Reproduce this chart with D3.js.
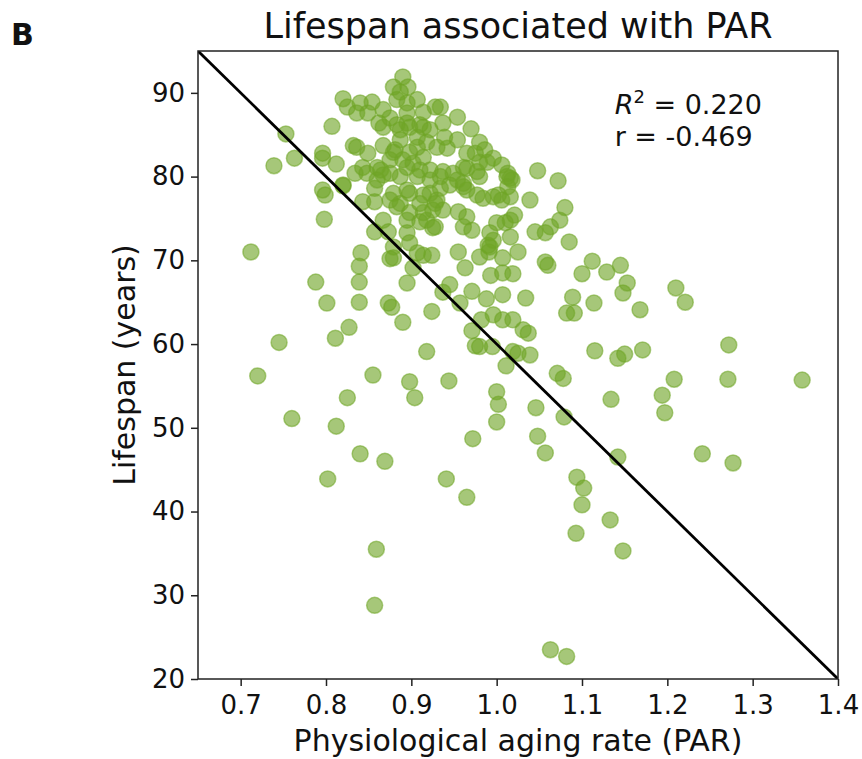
<!DOCTYPE html>
<html>
<head>
<meta charset="utf-8">
<script src="https://cdn.jsdelivr.net/npm/d3@7"></script>
<style>
  body { margin: 0; background: #fff; }
  svg text { font-family: "DejaVu Sans", sans-serif; fill: #111; }
</style>
</head>
<body>
<svg id="chart" width="862" height="759"></svg>
<script>
// Axis ranges and ticks
const xDomain = [0.65, 1.4];
const yDomain = [20, 95];
const xTicks = [0.7, 0.8, 0.9, 1.0, 1.1, 1.2, 1.3, 1.4];
const yTicks = [20, 30, 40, 50, 60, 70, 80, 90];

// Fitted line endpoints (PAR, lifespan)
const fitX = [0.65, 1.4];
const fitY = [95, 20];

// Stats label
const r2Text = '0.220';
const rText = '-0.469';

// Points: [PAR, lifespan]
const points = [
  [0.712,71.0],[0.739,81.3],[0.753,85.1],[0.763,82.2],[0.745,60.2],[0.720,56.2],[0.760,51.1],[0.788,67.4],
  [0.801,64.9],[0.796,82.8],[0.796,82.2],[0.796,78.4],[0.799,77.8],[0.798,74.9],[0.807,86.0],[0.812,81.5],
  [0.820,78.9],[0.811,60.7],[0.827,62.0],[0.839,69.3],[0.839,67.4],[0.839,65.0],[0.841,70.9],[0.812,50.2],
  [0.825,53.6],[0.855,56.3],[0.840,46.9],[0.869,46.0],[0.802,43.9],[0.859,35.5],[0.857,28.8],[0.875,70.2],
  [0.879,70.3],[0.895,67.3],[0.873,64.9],[0.877,64.4],[0.924,63.9],[0.890,62.6],[0.918,59.1],[0.898,55.5],
  [0.944,55.6],[0.904,53.6],[0.941,43.9],[0.965,41.7],[0.972,48.7],[1.000,54.3],[1.002,52.8],[1.000,50.7],
  [1.094,44.1],[1.102,42.8],[1.100,40.8],[1.133,39.0],[1.093,37.4],[1.148,35.3],[1.063,23.5],[1.082,22.7],
  [1.048,49.0],[1.057,47.0],[1.046,52.4],[1.079,51.3],[1.071,56.5],[1.078,55.9],[1.134,53.4],[1.142,46.5],
  [1.194,53.9],[1.197,51.8],[1.208,55.8],[1.271,55.8],[1.277,45.8],[1.241,46.9],[1.358,55.7],[1.272,59.9],
  [1.171,59.3],[1.150,58.8],[1.142,58.3],[1.115,59.2],[1.168,64.1],[1.221,65.0],[1.210,66.7],[1.153,67.3],
  [1.148,66.1],[1.145,69.4],[1.129,68.6],[1.100,68.4],[1.112,69.9],[1.089,65.6],[1.082,63.7],[1.091,63.7],
  [1.114,64.9],[1.085,72.2],[1.074,74.8],[1.063,74.0],[1.057,69.8],[1.060,69.4],[1.045,73.4],[1.080,76.3],
  [1.072,79.5],[1.048,80.7],[1.039,77.2],[1.016,77.6],[1.018,79.6],[1.013,80.4],[1.006,81.4],[1.016,72.8],
  [1.025,71.0],[1.007,70.3],[1.007,68.5],[1.019,68.4],[1.007,65.9],[1.034,65.5],[1.019,62.9],[1.007,62.9],
  [1.031,61.7],[1.037,61.3],[1.019,59.1],[1.025,58.9],[1.039,58.7],[1.011,57.4],
  [0.963,69.1],[0.971,66.3],[0.988,65.4],[0.993,68.2],[0.980,70.4],[0.991,71.0],[0.955,71.0],[0.945,67.1],
  [0.937,66.2],[0.957,64.9],[0.982,62.9],[0.996,63.5],[0.971,61.6],[0.975,59.8],[0.980,59.7],[0.995,59.7],
  [0.914,70.6],[0.907,70.9],[0.902,69.1],[0.924,70.6],
  [1.057,73.3],[1.021,75.4],[1.010,74.5],[1.000,74.5],[0.992,73.3],[0.990,71.8],[0.934,80.0],[0.965,78.4],
  [0.977,77.8],[0.996,77.6],[1.006,77.2],[0.928,76.8],[0.937,76.0],[0.955,75.8],[0.961,74.0],[0.971,73.6],
  [0.928,74.0],[1.016,79.8],[0.980,80.0],[0.961,79.2],[0.945,79.0],
  [0.820,79.0],[0.857,73.4],[0.873,73.4],[0.867,74.8],[0.895,74.8],[0.895,73.3],[0.898,72.1],[0.875,77.2],
  [0.887,76.8],[0.910,76.8],[0.918,74.8],[0.843,77.0],[0.857,77.0],[0.857,78.6],[0.895,78.4],[0.848,80.4],
  [0.867,80.2],[0.887,80.0],[0.907,80.0],[0.922,79.6],[0.834,80.4],
  [0.820,89.3],[0.825,88.3],[0.836,87.6],[0.840,88.8],[0.854,88.9],[0.867,88.0],[0.862,86.4],[0.832,83.7],
  [0.836,83.5],[0.849,82.8],[0.867,83.7],[0.879,90.7],[0.890,91.9],[0.896,90.7],[0.887,90.1],[0.883,89.2],
  [0.907,89.2],[0.928,88.3],[0.934,88.3],[0.954,87.1],[0.970,85.7],[0.914,87.7],[0.914,85.9],[0.922,85.6],
  [0.937,86.4],[0.939,84.7],[0.954,84.4],[0.930,83.5],[0.895,86.4],[0.883,86.2],[0.875,87.0],[0.881,83.2],
  [0.887,84.4],[0.907,83.5],[0.914,82.3],[0.890,82.0],[0.875,82.0],[0.860,81.1],[0.843,81.1],[0.860,79.6],
  [0.875,80.4],[0.895,81.1],[0.910,80.8],[0.922,80.8],[0.937,80.6],[0.949,80.4],[0.965,81.0],[0.977,80.6],
  [0.965,82.8],[0.975,82.8],[0.980,84.1],[0.986,83.2],[0.980,81.7],[0.989,81.7],[0.996,82.2],[1.012,80.0],
  [1.013,78.8],[1.002,77.8],[0.984,77.4],[0.961,78.8],[0.954,79.6],[0.934,78.6],[0.922,78.0],[0.879,78.0],
  [0.898,78.0],[0.914,77.8],[0.930,77.2],[0.925,76.0],[0.914,75.7],[0.898,75.7],[0.883,76.4],[0.965,75.2],
  [0.996,72.4],[1.016,74.8],[0.992,71.6],[0.910,74.6],[0.925,73.9],[0.879,71.6],
  [0.849,87.6],[0.895,88.8],[0.867,85.9],[0.895,87.6],[0.898,85.9],[0.887,85.6],[0.910,86.2],[0.907,84.7],
  [0.918,84.1],[0.879,82.9],[0.898,82.9],[0.902,81.6],[0.864,80.8],[0.942,83.4],[0.961,81.1]
];

const margin = { left: 198, top: 51, right: 24, bottom: 80 };
const width = 862 - margin.left - margin.right;
const height = 759 - margin.top - margin.bottom;

const svg = d3.select('#chart');
const g = svg.append('g').attr('transform', `translate(${margin.left},${margin.top})`);

const x = d3.scaleLinear().domain(xDomain).range([0, width]);
const y = d3.scaleLinear().domain(yDomain).range([height, 0]);

g.append('clipPath').attr('id', 'plotClip')
  .append('rect').attr('width', width).attr('height', height);

// points
g.append('g')
  .attr('clip-path', 'url(#plotClip)')
  .selectAll('circle')
  .data(points)
  .join('circle')
  .attr('cx', d => x(d[0]))
  .attr('cy', d => y(d[1]))
  .attr('r', 8)
  .attr('fill', 'rgb(112,165,38)')
  .attr('fill-opacity', 0.62)
  .attr('stroke', 'rgb(112,165,38)')
  .attr('stroke-opacity', 0.55)
  .attr('stroke-width', 1.5);

// fitted line
g.append('line')
  .attr('clip-path', 'url(#plotClip)')
  .attr('x1', x(fitX[0])).attr('y1', y(fitY[0]))
  .attr('x2', x(fitX[1])).attr('y2', y(fitY[1]))
  .attr('stroke', '#000')
  .attr('stroke-width', 2.8);

// axes
const xAxis = g.append('g')
  .attr('transform', `translate(0,${height})`)
  .call(d3.axisBottom(x).tickValues(xTicks).tickFormat(d3.format('.1f')).tickSize(7).tickPadding(10));
const yAxis = g.append('g')
  .call(d3.axisLeft(y).tickValues(yTicks).tickSize(7).tickPadding(6));

[xAxis, yAxis].forEach(a => {
  a.select('.domain').remove();
  a.selectAll('.tick line').attr('stroke', '#222').attr('stroke-width', 1.5);
  a.selectAll('.tick text').attr('font-size', 26).attr('fill', '#111')
    .style('font-family', '"DejaVu Sans", sans-serif');
});

// frame
g.append('rect')
  .attr('width', width).attr('height', height)
  .attr('fill', 'none').attr('stroke', '#222').attr('stroke-width', 1.5);

// stats annotation
const ann = g.append('text')
  .attr('x', x(1.0) + 118)
  .attr('y', y(90) + 21)
  .attr('font-size', 27);
ann.append('tspan').attr('font-style', 'italic').text('R');
ann.append('tspan').attr('dy', -11).attr('font-size', 18).text('2');
ann.append('tspan').attr('dy', 11).text(' = ' + r2Text);

g.append('text')
  .attr('x', x(1.0) + 118)
  .attr('y', y(90) + 53)
  .attr('font-size', 27)
  .text('r = ' + rText);

// titles
svg.append('text')
  .attr('x', margin.left + width / 2)
  .attr('y', 38)
  .attr('text-anchor', 'middle')
  .attr('font-size', 35)
  .text('Lifespan associated with PAR');

svg.append('text')
  .attr('x', 11)
  .attr('y', 45)
  .attr('font-size', 30)
  .attr('font-weight', 'bold')
  .text('B');

svg.append('text')
  .attr('x', margin.left + width / 2)
  .attr('y', 751)
  .attr('text-anchor', 'middle')
  .attr('font-size', 30)
  .text('Physiological aging rate (PAR)');

svg.append('text')
  .attr('transform', `translate(135,${margin.top + height / 2}) rotate(-90)`)
  .attr('text-anchor', 'middle')
  .attr('font-size', 30)
  .text('Lifespan (years)');
</script>
</body>
</html>
